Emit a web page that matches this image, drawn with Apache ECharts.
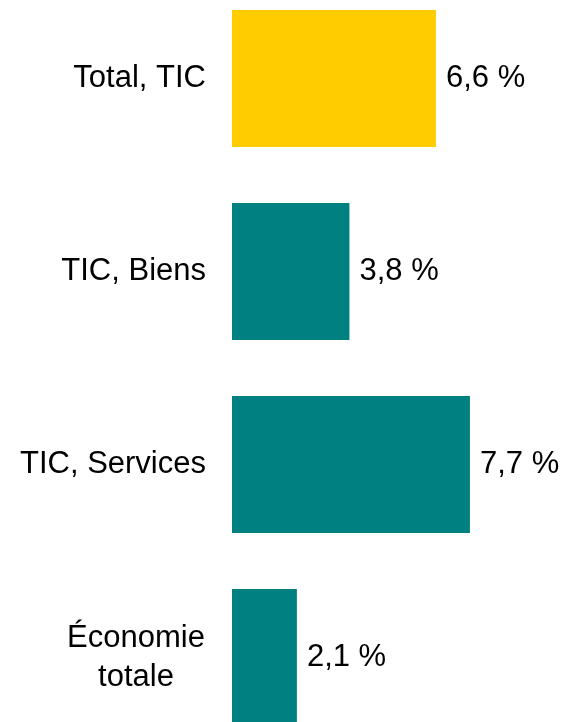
<!DOCTYPE html>
<html>
<head>
<meta charset="utf-8">
<script src="https://cdn.jsdelivr.net/npm/echarts@6/dist/echarts.min.js"></script>
<style>
html, body { margin: 0; padding: 0; background: #fff; overflow: hidden; }
#bar { width: 569px; height: 772px; margin-top: -18px; }
</style>
</head>
<body>
<div id="bar"></div>
<script>
// catégories et valeurs (croissance annuelle, %)
var categories = ['Total, TIC', 'TIC, Biens', 'TIC, Services', 'Économie totale'];
var values = [6.6, 3.8, 7.7, 2.1];
var colors = ['#FFCC00', '#008080', '#008080', '#008080'];

var myChart = echarts.init(document.getElementById('bar'));

var seriesData = [];
for (var i = 0; i < values.length; i++) {
	seriesData.push({ value: values[i], itemStyle: { color: colors[i] } });
}

var option = {
	animation: false,
	grid: {
		left: 232,
		width: 309,
		top: 0,
		bottom: 0,
		containLabel: false
	},
	xAxis: {
		type: 'value',
		min: 0,
		max: 10,
		show: false
	},
	yAxis: {
		type: 'category',
		inverse: true,
		data: categories,
		axisLine: { show: false },
		axisTick: { show: false },
		axisLabel: {
			margin: 26,
			fontFamily: 'Liberation Sans, Arial, sans-serif',
			fontSize: 31,
			color: '#000',
			formatter: function (val) {
				if (val === 'Économie totale') {
					return '{c|Économie}\n{c|totale}';
				}
				return val;
			},
			rich: {
				c: {
					fontFamily: 'Liberation Sans, Arial, sans-serif',
					fontSize: 31,
					color: '#000',
					width: 140,
					align: 'center',
					lineHeight: 39
				}
			}
		}
	},
	series: [{
		type: 'bar',
		data: seriesData,
		barWidth: 137,
		label: {
			show: true,
			position: 'right',
			distance: 10,
			fontFamily: 'Liberation Sans, Arial, sans-serif',
			fontSize: 31,
			color: '#000',
			formatter: function (p) {
				return p.value.toFixed(1).replace('.', ',') + ' %';
			}
		}
	}]
};

myChart.setOption(option);
</script>
</body>
</html>
